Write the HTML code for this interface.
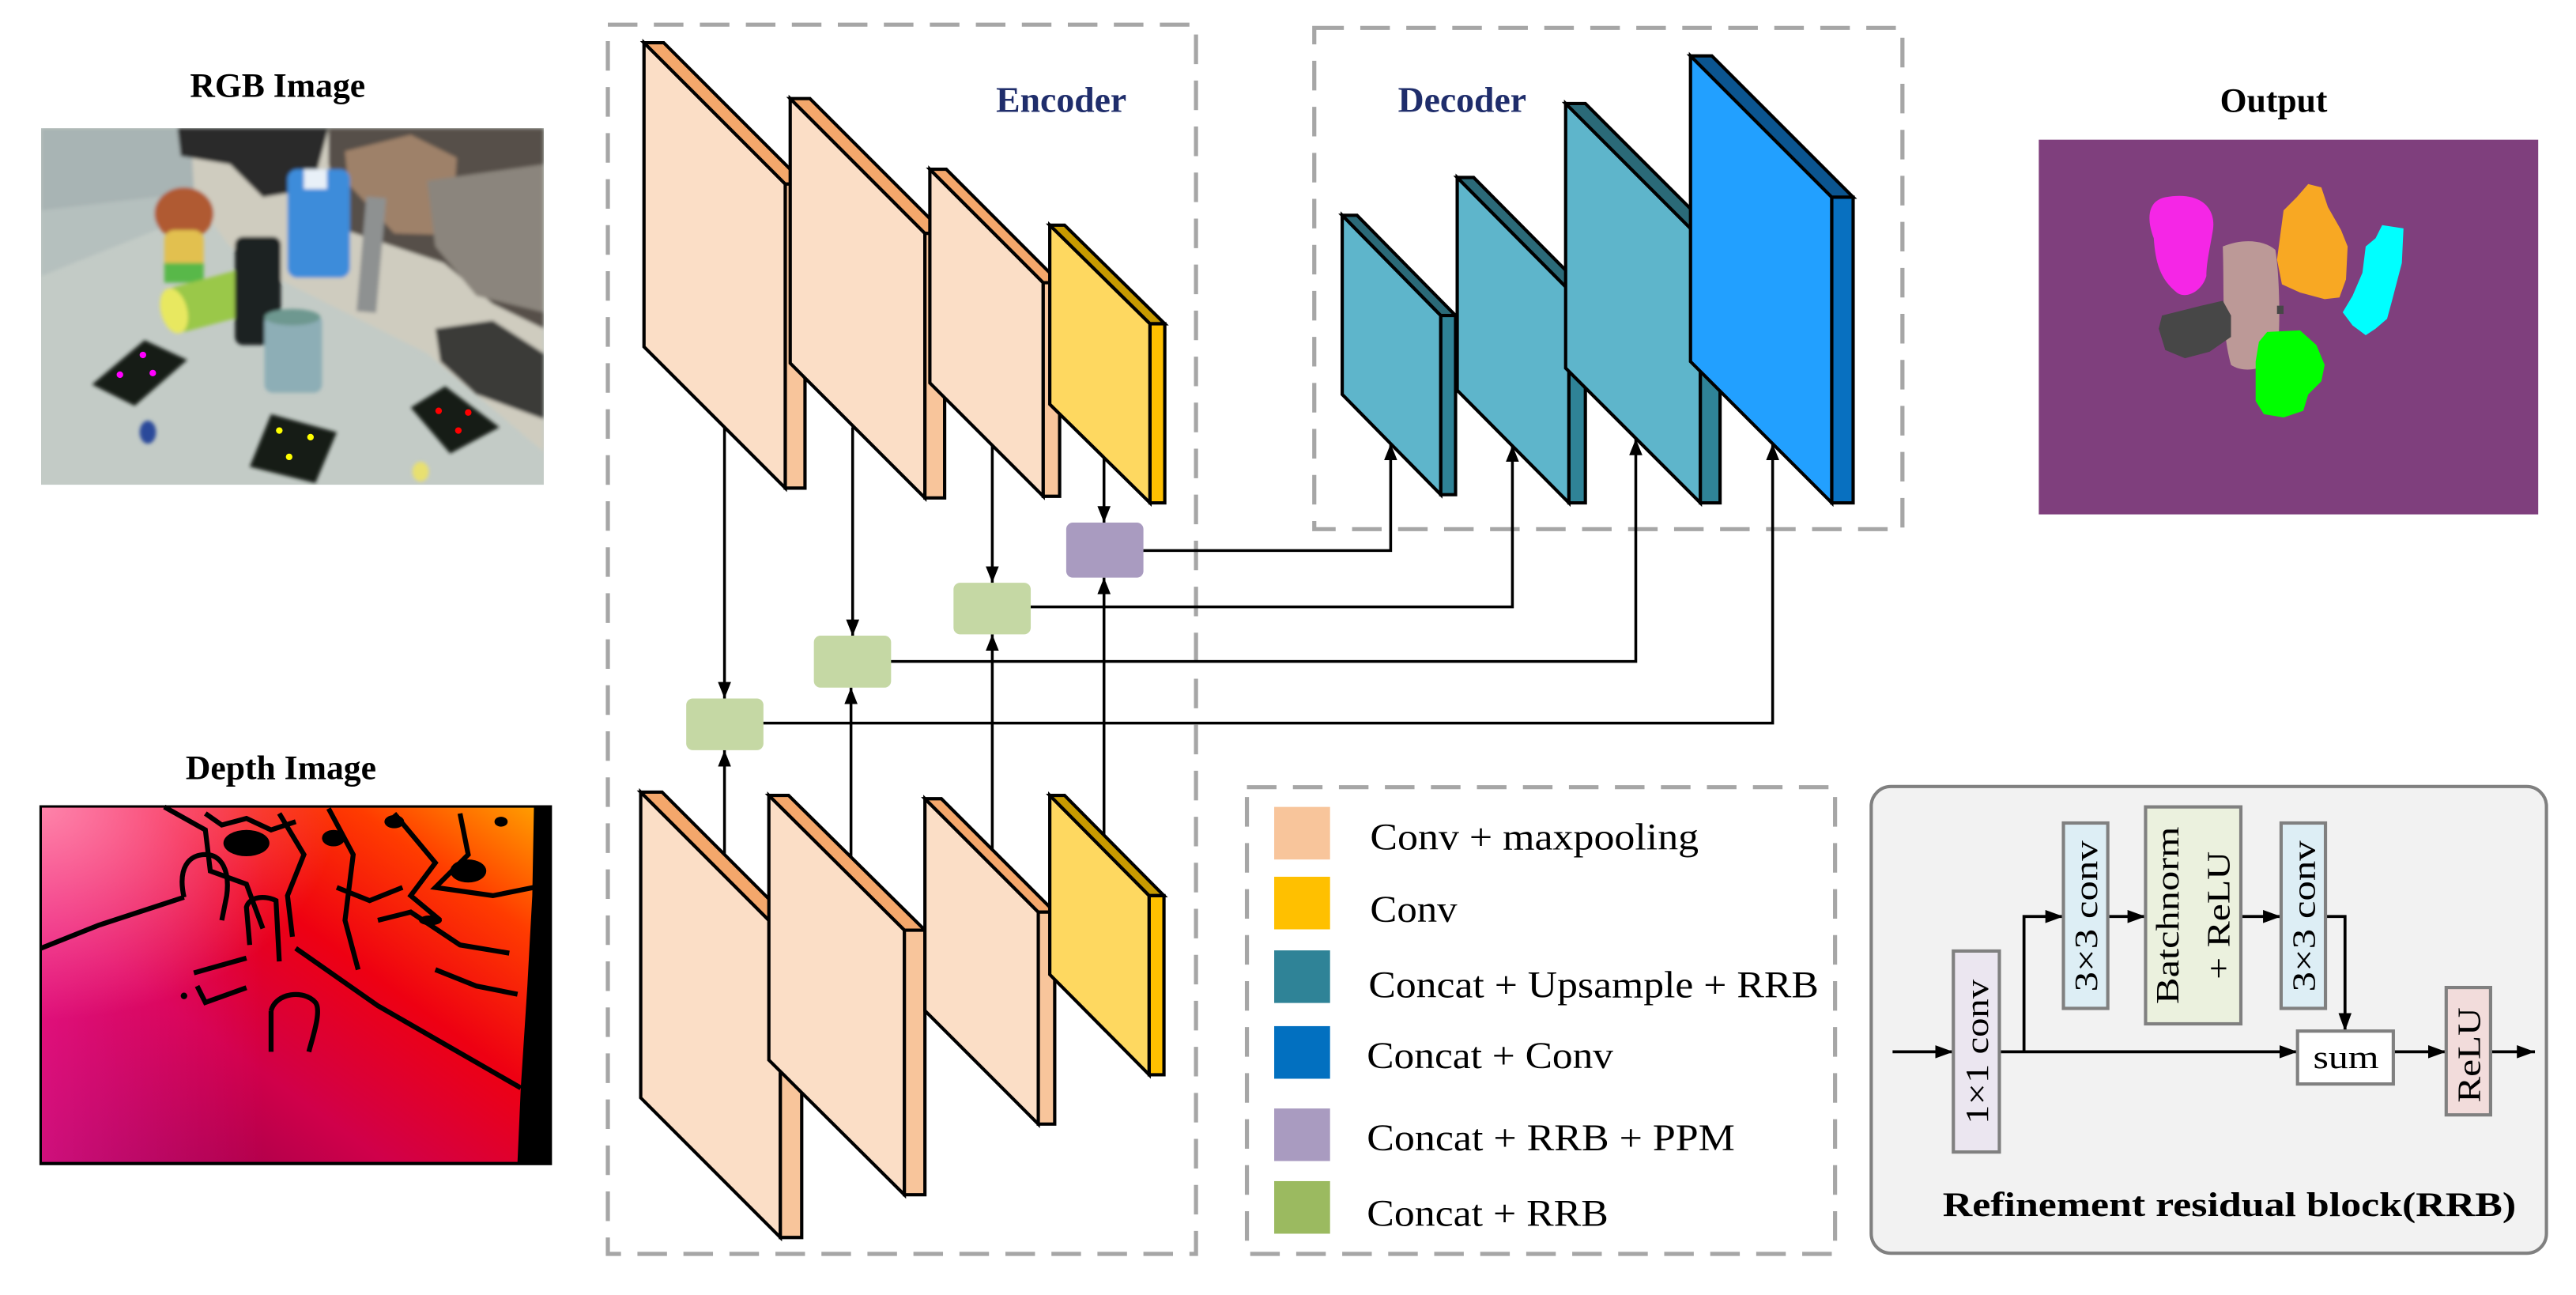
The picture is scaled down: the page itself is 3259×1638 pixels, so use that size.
<!DOCTYPE html>
<html><head><meta charset="utf-8"><style>
html,body{margin:0;padding:0;background:#fff;}
svg{display:block;}
text{font-family:"Liberation Serif",serif;}
</style></head><body>
<svg width="3259" height="1638" viewBox="0 0 1568 788" preserveAspectRatio="none" xmlns="http://www.w3.org/2000/svg">
<defs>
<marker id="ah" markerWidth="10" markerHeight="8" refX="10" refY="4" orient="auto" markerUnits="userSpaceOnUse"><path d="M0,0 L10,4 L0,8 Z" fill="#000"/></marker>
<marker id="ah2" markerWidth="11" markerHeight="8" refX="11" refY="4" orient="auto" markerUnits="userSpaceOnUse"><path d="M0,0 L11,4 L0,8 Z" fill="#000"/></marker>
<linearGradient id="dg" x1="0" y1="1" x2="1" y2="0"><stop offset="0" stop-color="#86004E"/><stop offset="0.35" stop-color="#D0004A"/><stop offset="0.6" stop-color="#EE0012"/><stop offset="0.82" stop-color="#FF3C00"/><stop offset="1" stop-color="#FF9C00"/></linearGradient>
<linearGradient id="dg2" x1="0" y1="0" x2="1" y2="0"><stop offset="0" stop-color="#FF1A9A" stop-opacity="0.6"/><stop offset="0.45" stop-color="#FF1A9A" stop-opacity="0"/></linearGradient>
<radialGradient id="dg3" cx="0" cy="0" r="0.6"><stop offset="0" stop-color="#FF90B0" stop-opacity="0.9"/><stop offset="1" stop-color="#FF90B0" stop-opacity="0"/></radialGradient>
<filter id="bl"><feGaussianBlur stdDeviation="1.2"/></filter>
<clipPath id="rgbc"><rect x="25" y="78" width="306" height="217"/></clipPath>
</defs>

<text x="169" y="59" font-size="21" font-weight="bold" text-anchor="middle">RGB Image</text>
<text x="171" y="474" font-size="21" font-weight="bold" text-anchor="middle">Depth Image</text>
<text x="1384" y="68" font-size="21" font-weight="bold" text-anchor="middle">Output</text>

<g clip-path="url(#rgbc)">
<rect x="25" y="78" width="306" height="217" fill="#C3CBC6"/>
<g filter="url(#bl)">
<polygon points="116,78 331,78 331,275 260,215 170,170 140,150 116,118" fill="#CFCCBF"/>
<polygon points="25,78 116,78 118,115 112,125 25,165" fill="#A8B4B4"/>
<polygon points="25,128 112,118 120,130 25,168" fill="#B5C0BE"/>
<polygon points="108,78 200,78 190,115 160,120 140,100 110,95" fill="#2C2B2A"/>
<polygon points="200,78 331,78 331,200 300,185 270,160 240,150 210,140 200,100" fill="#57504A"/>
<polygon points="210,92 250,82 278,96 275,143 240,142 212,112" fill="#9E8169"/>
<polygon points="260,110 331,100 331,190 290,180 265,150" fill="#8B857D"/>
<polygon points="265,200 300,195 331,215 331,255 290,240 268,220" fill="#3A3A38"/>
<rect x="220" y="120" width="12" height="70" fill="#8E9191" transform="rotate(5 226 155)"/>
<rect x="175" y="103" width="38" height="66" rx="6" fill="#3E8CDA"/>
<rect x="185" y="103" width="14" height="12" fill="#E8F0F8"/>
<ellipse cx="112" cy="130" rx="18" ry="16" fill="#B05A30"/>
<rect x="100" y="140" width="24" height="32" rx="6" fill="#E2C050"/>
<rect x="100" y="160" width="24" height="12" fill="#58B84A"/>
<g transform="rotate(-15 125 183)"><rect x="103" y="170" width="52" height="28" rx="6" fill="#9AC84A"/><ellipse cx="105" cy="184" rx="8" ry="14" fill="#E8E860"/></g>
<rect x="143" y="144" width="28" height="66" rx="5" fill="#1C2320"/>
<rect x="161" y="191" width="35" height="48" rx="5" fill="#8DAEB6"/>
<ellipse cx="178" cy="193" rx="17" ry="5" fill="#6E9890"/>
<polygon points="56,234 88,207 114,219 82,247" fill="#151A18"/>
<polygon points="152,284 165,252 205,263 192,294" fill="#151A18"/>
<polygon points="250,248 271,235 304,260 274,276" fill="#151A18"/>
<ellipse cx="90" cy="263" rx="5" ry="7" fill="#2A4A9A"/>
<ellipse cx="256" cy="287" rx="5" ry="6" fill="#E8E070"/>
</g>
<circle cx="87" cy="216" r="2" fill="#F0F"/><circle cx="73" cy="228" r="2" fill="#F0F"/><circle cx="93" cy="227" r="2" fill="#F0F"/>
<circle cx="170" cy="262" r="2" fill="#FF0"/><circle cx="189" cy="266" r="2" fill="#FF0"/><circle cx="176" cy="278" r="2" fill="#FF0"/>
<circle cx="267" cy="250" r="2" fill="#F00"/><circle cx="285" cy="251" r="2" fill="#F00"/><circle cx="279" cy="262" r="2" fill="#F00"/>
</g>

<rect x="24" y="490" width="312" height="219" fill="#000"/>
<polygon points="25.5,491.5 325,491.5 324,545 321,600 317,662 315,707 25.5,707" fill="url(#dg)"/>
<polygon points="25.5,491.5 325,491.5 324,545 321,600 317,662 315,707 25.5,707" fill="url(#dg2)"/>
<rect x="25.5" y="491.5" width="300" height="215" fill="url(#dg3)"/>
<g fill="none" stroke="#000" stroke-width="3">
<polyline points="25,577 60,563 112,546"/>
<polyline points="180,577 230,612 317,662"/>
<polyline points="100,491 125,505 128,530 150,538 160,565"/>
<polyline points="170,495 185,520 175,545 178,570"/>
<polyline points="200,492 215,520 210,560 218,590"/>
<polyline points="240,495 265,525 250,545 268,560"/>
<polyline points="280,495 285,520 265,540 300,545 325,540"/>
<polyline points="230,560 250,555 280,575 310,580"/>
<polyline points="265,590 290,600 315,605"/>
<polyline points="125,495 135,502 150,498 165,505 180,500"/>
<polyline points="205,540 225,548 245,540"/>
<path d="M112,546 C108,528 115,520 125,520 C135,520 140,530 138,545 L135,560"/>
<path d="M152,575 L150,552 C152,545 162,545 168,548 L170,585"/>
<path d="M118,592 L150,583 M120,600 L125,610 L150,601"/>
<path d="M165,615 C168,604 185,602 192,610 C196,615 190,632 188,640 M165,615 L165,640"/>
</g>
<g fill="#000">
<ellipse cx="150" cy="513" rx="14" ry="8"/>
<ellipse cx="285" cy="530" rx="11" ry="7"/>
<ellipse cx="203" cy="510" rx="7" ry="5"/>
<ellipse cx="262" cy="560" rx="7" ry="3"/>
<ellipse cx="240" cy="500" rx="6" ry="4"/>
<ellipse cx="305" cy="500" rx="4" ry="3"/>
<ellipse cx="112" cy="606" rx="2" ry="2"/>
</g>

<rect x="1241" y="85" width="304" height="228" fill="#7F3F7D"/>
<path d="M1353,150 C1365,145 1378,146 1385,152 C1388,170 1388,205 1386,215 C1380,226 1365,227 1358,222 C1352,200 1354,180 1353,150Z" fill="#BC9997"/>
<path d="M1318,120 C1340,116 1349,127 1347,140 C1345,152 1343,160 1343,168 C1340,178 1330,182 1325,178 C1315,170 1312,160 1311,145 C1306,132 1308,122 1318,120Z" fill="#F526E6"/>
<polygon points="1405,112 1413,114 1417,126 1425,140 1429,150 1428,170 1424,181 1415,182 1400,178 1389,173 1386,158 1390,128 1398,120" fill="#F8A823"/>
<polygon points="1450,137 1463,139 1462,160 1456,183 1453,194 1446,200 1440,204 1432,198 1426,190 1432,180 1438,166 1440,150 1446,145" fill="#00FFFF"/>
<polygon points="1316,192 1340,186 1353,183 1358,192 1358,205 1345,214 1330,218 1318,213 1314,200" fill="#474747"/>
<rect x="1386" y="186" width="4" height="5" fill="#474747"/>
<polygon points="1380,202 1400,201 1410,210 1415,222 1413,232 1405,240 1402,250 1390,254 1378,252 1373,244 1373,220 1375,208" fill="#00FF00"/>

<g fill="none" stroke="#A6A6A6" stroke-width="2.5" stroke-dasharray="18 10">
<rect x="370" y="15" width="358" height="748"/>
<rect x="800" y="17" width="358" height="305"/>
<rect x="759" y="479" width="358" height="284"/>
</g>

<g stroke="#000" stroke-width="1.7" fill="none" marker-end="url(#ah)">
<line x1="441" y1="250" x2="441" y2="425"/>
<line x1="519" y1="260" x2="519" y2="387"/>
<line x1="604" y1="260" x2="604" y2="354.6"/>
<line x1="672" y1="250" x2="672" y2="318"/>
<line x1="441" y1="540" x2="441" y2="456.5"/>
<line x1="518" y1="540" x2="518" y2="418.4"/>
<line x1="604" y1="530" x2="604" y2="386"/>
<line x1="672" y1="520" x2="672" y2="351.5"/>
<polyline points="695,335 846.5,335 846.5,270"/>
<polyline points="627,369.3 920.6,369.3 920.6,271"/>
<polyline points="542,402.5 995.7,402.5 995.7,267"/>
<polyline points="464,440 1079,440 1079,270"/>
</g>

<g stroke="#000" stroke-width="2" stroke-linejoin="miter">
<polygon points="392,26 478,112 478,297 392,211" fill="#FBDEC6"/><polygon points="392,26 404,26 490,112 478,112" fill="#F4A76B"/><polygon points="478,112 490,112 490,297 478,297" fill="#F8C59B"/>
<polygon points="481,60 563,142 563,303 481,221" fill="#FBDEC6"/><polygon points="481,60 493,60 575,142 563,142" fill="#F4A76B"/><polygon points="563,142 575,142 575,303 563,303" fill="#F8C59B"/>
<polygon points="566,103 635,172 635,302 566,233" fill="#FBDEC6"/><polygon points="566,103 576,103 645,172 635,172" fill="#F4A76B"/><polygon points="635,172 645,172 645,302 635,302" fill="#F8C59B"/>
<polygon points="639,137 700,197 700,306 639,246" fill="#FED860"/><polygon points="639,137 648,137 709,197 700,197" fill="#C79A00"/><polygon points="700,197 709,197 709,306 700,306" fill="#FFC000"/>
<polygon points="817,131 877,192 877,301 817,240" fill="#5EB5CB"/><polygon points="817,131 826,131 886,192 877,192" fill="#2B6A78"/><polygon points="877,192 886,192 886,301 877,301" fill="#2F8397"/>
<polygon points="887,108 955,176.5 955,306 887,237.5" fill="#5EB5CB"/><polygon points="887,108 897,108 965,176.5 955,176.5" fill="#2B6A78"/><polygon points="955,176.5 965,176.5 965,306 955,306" fill="#2F8397"/>
<polygon points="953,63 1035,145 1035,306 953,224" fill="#5EB5CB"/><polygon points="953,63 965,63 1047,145 1035,145" fill="#2B6A78"/><polygon points="1035,145 1047,145 1047,306 1035,306" fill="#2F8397"/>
<polygon points="1029,34 1115,120 1115,306 1029,220" fill="#22A0FF"/><polygon points="1029,34 1042,34 1128,120 1115,120" fill="#0B5590"/><polygon points="1115,120 1128,120 1128,306 1115,306" fill="#0870C0"/>
<polygon points="390,482 475,567 475,753 390,668" fill="#FBDEC6"/><polygon points="390,482 403,482 488,567 475,567" fill="#F4A76B"/><polygon points="475,567 488,567 488,753 475,753" fill="#F8C59B"/>
<polygon points="468,484 550.5,566 550.5,727 468,645" fill="#FBDEC6"/><polygon points="468,484 480,484 563,566 550.5,566" fill="#F4A76B"/><polygon points="550.5,566 563,566 563,727 550.5,727" fill="#F8C59B"/>
<polygon points="563,486 632,555 632,684 563,615" fill="#FBDEC6"/><polygon points="563,486 573,486 642,555 632,555" fill="#F4A76B"/><polygon points="632,555 642,555 642,684 632,684" fill="#F8C59B"/>
<polygon points="639,484 699.5,545 699.5,654 639,593" fill="#FED860"/><polygon points="639,484 648,484 708.5,545 699.5,545" fill="#C79A00"/><polygon points="699.5,545 708.5,545 708.5,654 699.5,654" fill="#FFC000"/>
</g>

<rect x="649" y="318" width="47" height="33.5" rx="4" fill="#A99BC0"/>
<rect x="580.4" y="354.6" width="47" height="31.4" rx="4" fill="#C5D8A4"/>
<rect x="495.4" y="386.8" width="47" height="31.6" rx="4" fill="#C5D8A4"/>
<rect x="417.7" y="425" width="47" height="31.5" rx="4" fill="#C5D8A4"/>

<text x="646" y="68" font-size="22" font-weight="bold" fill="#1F2D6B" text-anchor="middle">Encoder</text>
<text x="890" y="68" font-size="22" font-weight="bold" fill="#1F2D6B" text-anchor="middle">Decoder</text>

<rect x="775.6" y="491" width="34" height="32" fill="#F8C59B"/>
<rect x="775.6" y="533.5" width="34" height="32" fill="#FFC000"/>
<rect x="775.6" y="578.3" width="34" height="32" fill="#2F8397"/>
<rect x="775.6" y="624.4" width="34" height="32" fill="#0270C0"/>
<rect x="775.6" y="674.5" width="34" height="32" fill="#A99BC0"/>
<rect x="775.6" y="718.7" width="34" height="32" fill="#9BBA60"/>
<g font-size="23">
<text x="834" y="517" textLength="200" lengthAdjust="spacingAndGlyphs">Conv + maxpooling</text>
<text x="834" y="561" textLength="53" lengthAdjust="spacingAndGlyphs">Conv</text>
<text x="833" y="607" textLength="274" lengthAdjust="spacingAndGlyphs">Concat + Upsample + RRB</text>
<text x="832" y="650" textLength="150" lengthAdjust="spacingAndGlyphs">Concat + Conv</text>
<text x="832" y="700" textLength="224" lengthAdjust="spacingAndGlyphs">Concat + RRB + PPM</text>
<text x="832" y="746" textLength="147" lengthAdjust="spacingAndGlyphs">Concat + RRB</text>
</g>

<rect x="1139" y="478.6" width="411" height="284" rx="12" fill="#F2F2F2" stroke="#808080" stroke-width="2"/>
<g stroke="#000" stroke-width="1.8" fill="none" marker-end="url(#ah2)">
<line x1="1152" y1="640" x2="1189" y2="640"/>
<line x1="1217" y1="640" x2="1398.5" y2="640"/>
<polyline points="1232,640 1232,557.7 1256,557.7"/>
<line x1="1283" y1="557.7" x2="1306" y2="557.7"/>
<line x1="1364" y1="557.7" x2="1388.5" y2="557.7"/>
<polyline points="1415.6,557.7 1427.4,557.7 1427.4,627.4"/>
<line x1="1457" y1="640" x2="1489" y2="640"/>
<line x1="1516" y1="640" x2="1543" y2="640"/>
</g>
<g stroke="#808080" stroke-width="2">
<rect x="1189" y="578.7" width="28" height="122.3" fill="#EBE6F0"/>
<rect x="1256" y="500.8" width="27" height="112.8" fill="#DDEEF5"/>
<rect x="1306" y="491" width="58" height="132" fill="#EBF1DE"/>
<rect x="1388.5" y="500.8" width="27" height="112.8" fill="#DDEEF5"/>
<rect x="1398.5" y="627.4" width="58.3" height="32.2" fill="#FFFFFF"/>
<rect x="1489" y="600.9" width="27" height="77.5" fill="#F2DCDB"/>
</g>
<g font-size="20">
<text transform="translate(1210,640) rotate(-90)" text-anchor="middle" textLength="88" lengthAdjust="spacingAndGlyphs">1×1 conv</text>
<text transform="translate(1276.5,557.5) rotate(-90)" text-anchor="middle" textLength="92" lengthAdjust="spacingAndGlyphs">3×3 conv</text>
<text transform="translate(1326,557) rotate(-90)" text-anchor="middle" textLength="108" lengthAdjust="spacingAndGlyphs">Batchnorm</text>
<text transform="translate(1357,557) rotate(-90)" text-anchor="middle" textLength="78" lengthAdjust="spacingAndGlyphs">+ ReLU</text>
<text transform="translate(1409,557.5) rotate(-90)" text-anchor="middle" textLength="92" lengthAdjust="spacingAndGlyphs">3×3 conv</text>
<text transform="translate(1509.5,642) rotate(-90)" text-anchor="middle" textLength="58" lengthAdjust="spacingAndGlyphs">ReLU</text>
<text x="1428" y="650" text-anchor="middle" textLength="40" lengthAdjust="spacingAndGlyphs">sum</text>
</g>
<text x="1357" y="740" font-size="21" font-weight="bold" text-anchor="middle" textLength="349" lengthAdjust="spacingAndGlyphs">Refinement residual block(RRB)</text>
</svg>
</body></html>
